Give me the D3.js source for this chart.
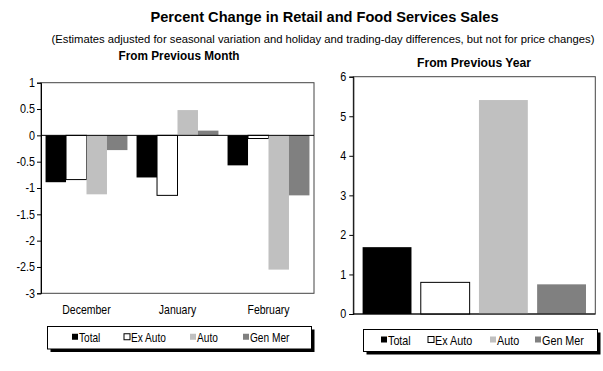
<!DOCTYPE html>
<html>
<head>
<meta charset="utf-8">
<script src="https://cdn.jsdelivr.net/npm/d3@7"></script>
<style>
  body { margin: 0; background: #fff; }
  text { font-family: "Liberation Sans", Arial, sans-serif; fill: #000; }
</style>
</head>
<body>
<svg width="603" height="371"></svg>
<script>
const series = ["Total", "Ex Auto", "Auto", "Gen Mer"];
const months = ["December", "January", "February"];
const monthTotal = [-0.89, -0.80, -0.57];
const monthExAuto = [-0.84, -1.14, -0.06];
const monthAuto = [-1.12, 0.48, -2.55];
const monthGenMer = [-0.28, 0.09, -1.14];
const yearValues = [1.69, 0.80, 5.41, 0.75];
const monthTicks = [1, 0.5, 0, -0.5, -1, -1.5, -2, -2.5, -3];
const yearTicks = [0, 1, 2, 3, 4, 5, 6];

const fills = { "Total": "#000", "Ex Auto": "#fff", "Auto": "#c0c0c0", "Gen Mer": "#808080" };

const svg = d3.select("svg");

// squeeze text horizontally, the original uses a narrow face
function condense(sel, k) {
    sel.each(function () {
        const t = d3.select(this);
        const x = +(t.attr("x") || 0);
        t.attr("x", x / k).attr("transform", "scale(" + k + ",1)");
    });
}

// titles
svg.append("text").attr("x", 150.5).attr("y", 21.5)
    .attr("textLength", 348).attr("lengthAdjust", "spacingAndGlyphs")
    .style("font-size", "14.5px").style("font-weight", "bold")
    .text("Percent Change in Retail and Food Services Sales");
svg.append("text").attr("x", 51.5).attr("y", 42.5)
    .attr("textLength", 543).attr("lengthAdjust", "spacingAndGlyphs")
    .style("font-size", "10.5px")
    .text("(Estimates adjusted for seasonal variation and holiday and trading-day differences, but not for price changes)");
svg.append("text").attr("x", 118.5).attr("y", 59.5)
    .attr("textLength", 121).attr("lengthAdjust", "spacingAndGlyphs")
    .style("font-size", "13px").style("font-weight", "bold")
    .text("From Previous Month");
svg.append("text").attr("x", 417).attr("y", 66.5)
    .attr("textLength", 114).attr("lengthAdjust", "spacingAndGlyphs")
    .style("font-size", "13px").style("font-weight", "bold")
    .text("From Previous Year");

// left chart: from previous month
const left = { x0: 41, x1: 314, y0: 82.7, y1: 293.3 };
const monthData = months.map((m, i) => ({
    month: m,
    values: [monthTotal[i], monthExAuto[i], monthAuto[i], monthGenMer[i]]
}));

const x0 = d3.scaleBand().domain(months).range([left.x0, left.x1])
    .paddingInner(0.1).paddingOuter(0.05);
const x1 = d3.scaleBand().domain(series).range([0, x0.bandwidth()]);
const yL = d3.scaleLinear().domain([-3, 1]).range([left.y1, left.y0]);

const gL = svg.append("g");
gL.append("rect")
    .attr("x", left.x0).attr("y", left.y0)
    .attr("width", left.x1 - left.x0).attr("height", left.y1 - left.y0)
    .attr("fill", "none").attr("stroke", "#444").attr("stroke-width", 1);

const groups = gL.selectAll(".grp").data(monthData).enter().append("g")
    .attr("transform", d => "translate(" + x0(d.month) + ",0)");
groups.selectAll("rect").data(d => d.values.map((v, j) => ({ s: series[j], v: v })))
    .enter().append("rect")
    .attr("x", d => x1(d.s))
    .attr("width", x1.bandwidth())
    .attr("y", d => yL(Math.max(0, d.v)))
    .attr("height", d => Math.abs(yL(d.v) - yL(0)))
    .attr("fill", d => fills[d.s])
    .attr("stroke", d => d.s === "Ex Auto" ? "#000" : "none")
    .attr("stroke-width", 1);

gL.append("line")
    .attr("x1", left.x0).attr("x2", left.x1)
    .attr("y1", yL(0)).attr("y2", yL(0))
    .attr("stroke", "#000");

const axL = gL.append("g").attr("transform", "translate(" + left.x0 + ",0)")
    .call(d3.axisLeft(yL).tickValues(monthTicks).tickSize(4).tickPadding(2)
        .tickFormat(d => String(d)));
axL.select(".domain").attr("stroke", "#000");
axL.selectAll("text").style("font-size", "12px").style("font-family", "'Liberation Sans', Arial, sans-serif");
condense(axL.selectAll("text"), 0.9);

const mlab = gL.selectAll(".mlab").data(months).enter().append("text")
    .attr("x", d => x0(d) + x0.bandwidth() / 2)
    .attr("y", 314.5)
    .attr("text-anchor", "middle")
    .style("font-size", "12.5px")
    .text(d => d);
condense(mlab, 0.84);

// right chart: from previous year
const right = { x0: 353.3, x1: 595.3, y0: 76.7, y1: 314 };
const xR = d3.scaleBand().domain(series).range([right.x0, right.x1]).padding(0.16);
const yR = d3.scaleLinear().domain([0, 6]).range([right.y1, right.y0]);

const gR = svg.append("g");
gR.append("rect")
    .attr("x", right.x0).attr("y", right.y0)
    .attr("width", right.x1 - right.x0).attr("height", right.y1 - right.y0)
    .attr("fill", "none").attr("stroke", "#444").attr("stroke-width", 1);

gR.selectAll(".bar").data(yearValues).enter().append("rect")
    .attr("x", (d, i) => xR(series[i]))
    .attr("width", xR.bandwidth())
    .attr("y", d => yR(d))
    .attr("height", d => yR(0) - yR(d))
    .attr("fill", (d, i) => fills[series[i]])
    .attr("stroke", (d, i) => series[i] === "Ex Auto" ? "#000" : "none");

const axR = gR.append("g").attr("transform", "translate(" + right.x0 + ",0)")
    .call(d3.axisLeft(yR).tickValues(yearTicks).tickSize(4).tickPadding(3)
        .tickFormat(d => String(d)));
axR.select(".domain").attr("stroke", "#000");
axR.selectAll("text").style("font-size", "12px").style("font-family", "'Liberation Sans', Arial, sans-serif");
condense(axR.selectAll("text"), 0.9);
gR.append("line").attr("x1", right.x0).attr("x2", right.x1)
    .attr("y1", yR(0)).attr("y2", yR(0)).attr("stroke", "#000");

// legends
function legend(box, items, k) {
    const g = svg.append("g");
    g.append("rect").attr("x", box.x + 3).attr("y", box.y + 3)
        .attr("width", box.w).attr("height", box.h).attr("fill", "#000");
    g.append("rect").attr("x", box.x).attr("y", box.y)
        .attr("width", box.w).attr("height", box.h)
        .attr("fill", "#fff").attr("stroke", "#000");
    const it = g.selectAll(".it").data(items).enter().append("g");
    it.append("rect")
        .attr("x", d => d.x).attr("y", box.y + box.h / 2 - 4)
        .attr("width", 6).attr("height", 6)
        .attr("fill", d => fills[d.s])
        .attr("stroke", d => d.s === "Ex Auto" ? "#000" : "none");
    const lt = it.append("text")
        .attr("x", d => d.x + 7).attr("y", box.y + box.h / 2 + 4.5)
        .style("font-size", "13px")
        .text(d => d.s);
    condense(lt, k);
}

legend({ x: 47.5, y: 326.5, w: 264, h: 22.5 }, [
    { s: "Total", x: 72 }, { s: "Ex Auto", x: 124 },
    { s: "Auto", x: 190 }, { s: "Gen Mer", x: 243 }
], 0.78);
legend({ x: 363.5, y: 329.5, w: 234, h: 22 }, [
    { s: "Total", x: 381 }, { s: "Ex Auto", x: 428 },
    { s: "Auto", x: 490 }, { s: "Gen Mer", x: 535 }
], 0.83);
</script>
</body>
</html>
